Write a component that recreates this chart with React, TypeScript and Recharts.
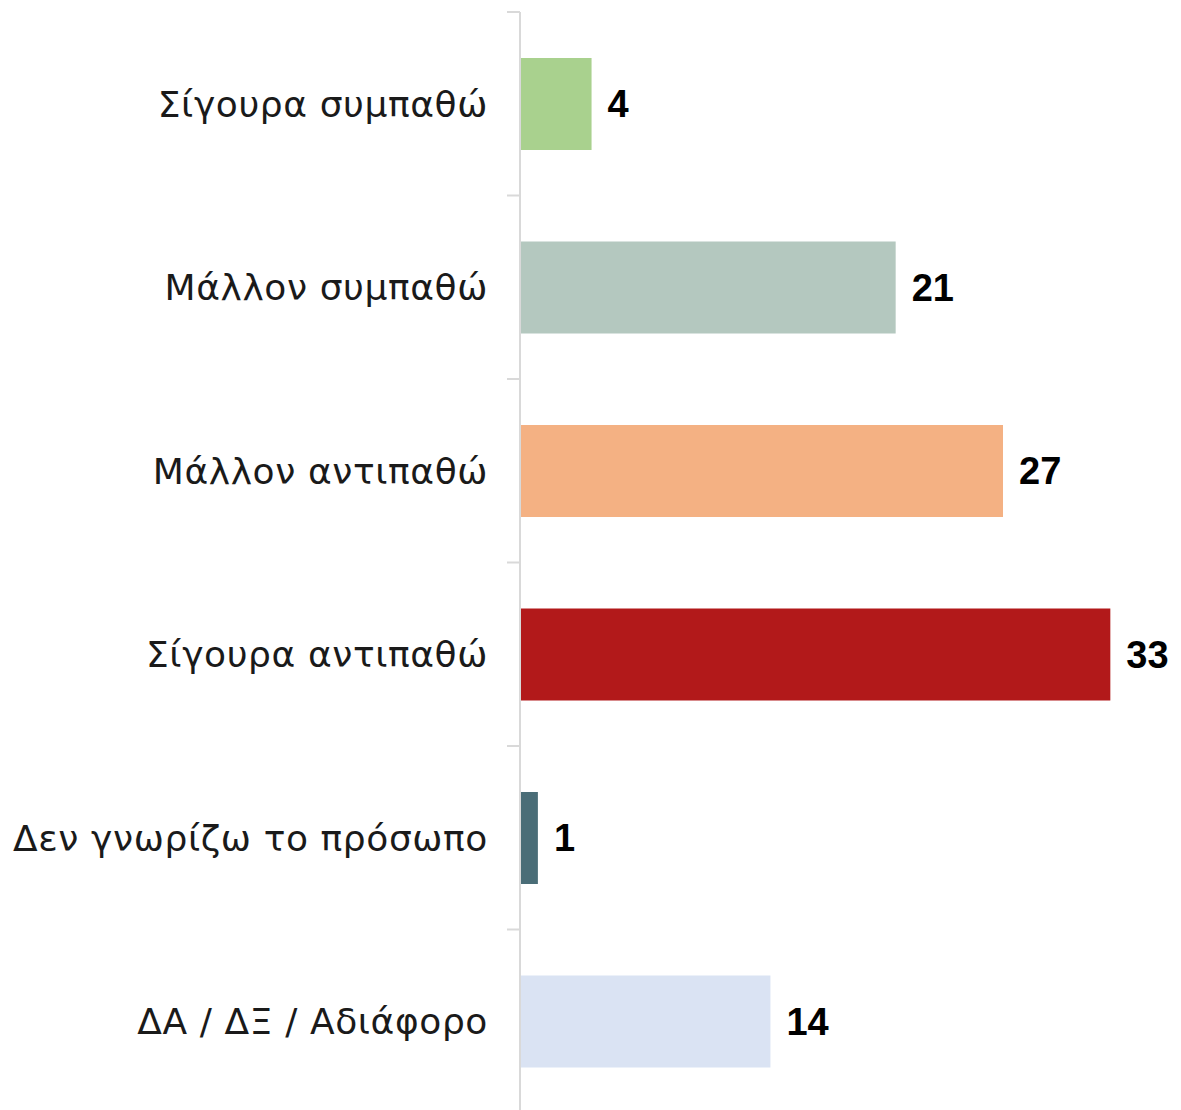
import { BarChart, Bar, XAxis, YAxis, Cell, LabelList } from 'recharts'

const categories = [
  'Σίγουρα συμπαθώ',
  'Μάλλον συμπαθώ',
  'Μάλλον αντιπαθώ',
  'Σίγουρα αντιπαθώ',
  'Δεν γνωρίζω το πρόσωπο',
  'ΔΑ / ΔΞ / Αδιάφορο',
]
const values = [4, 21, 27, 33, 1, 14]
const colors = ['#a9d18e', '#b4c8bf', '#f4b183', '#b2191a', '#4a6d77', '#dae3f3']

const data = categories.map((name, i) => ({ name, value: values[i] }))

// category label plus a tick mark on the band edges (Excel-style)
function CategoryTick(props: any) {
  const { x, y, payload, index, visibleTicksCount } = props
  const half = payload?.offset ?? 0
  const axisX = x + 32
  return (
    <g>
      <line x1={axisX - 13} x2={axisX} y1={y - half} y2={y - half} stroke="#d9d9d9" strokeWidth={2} />
      {index === visibleTicksCount - 1 && (
        <line x1={axisX - 13} x2={axisX} y1={y + half} y2={y + half} stroke="#d9d9d9" strokeWidth={2} />
      )}
      <text
        x={x}
        y={y}
        dy="0.355em"
        textAnchor="end"
        fontSize={36}
        letterSpacing={0.6}
        fill="#1a1a1a"
        fontFamily="DejaVu Sans"
      >
        {payload.value}
      </text>
    </g>
  )
}

export default function App() {
  return (
    <div style={{ position: 'absolute', left: 0, top: 0, background: '#fff' }}>
      <BarChart
        width={1181}
        height={1110}
        data={data}
        layout="vertical"
        margin={{ top: 12, right: 17, bottom: -3, left: 0 }}
      >
        <XAxis type="number" domain={[0, 36]} hide />
        <YAxis
          type="category"
          dataKey="name"
          width={520}
          axisLine={{ stroke: '#d9d9d9', strokeWidth: 2 }}
          tickLine={false}
          tickSize={0}
          tickMargin={32}
          interval={0}
          tick={<CategoryTick />}
        />
        <Bar dataKey="value" barSize={92} isAnimationActive={false}>
          {data.map((d, i) => (
            <Cell key={d.name} fill={colors[i]} />
          ))}
          <LabelList
            dataKey="value"
            position="right"
            offset={16}
            style={{ fontSize: 38, fontWeight: 700, fill: '#000', fontFamily: 'Liberation Sans' }}
          />
        </Bar>
      </BarChart>
    </div>
  )
}
